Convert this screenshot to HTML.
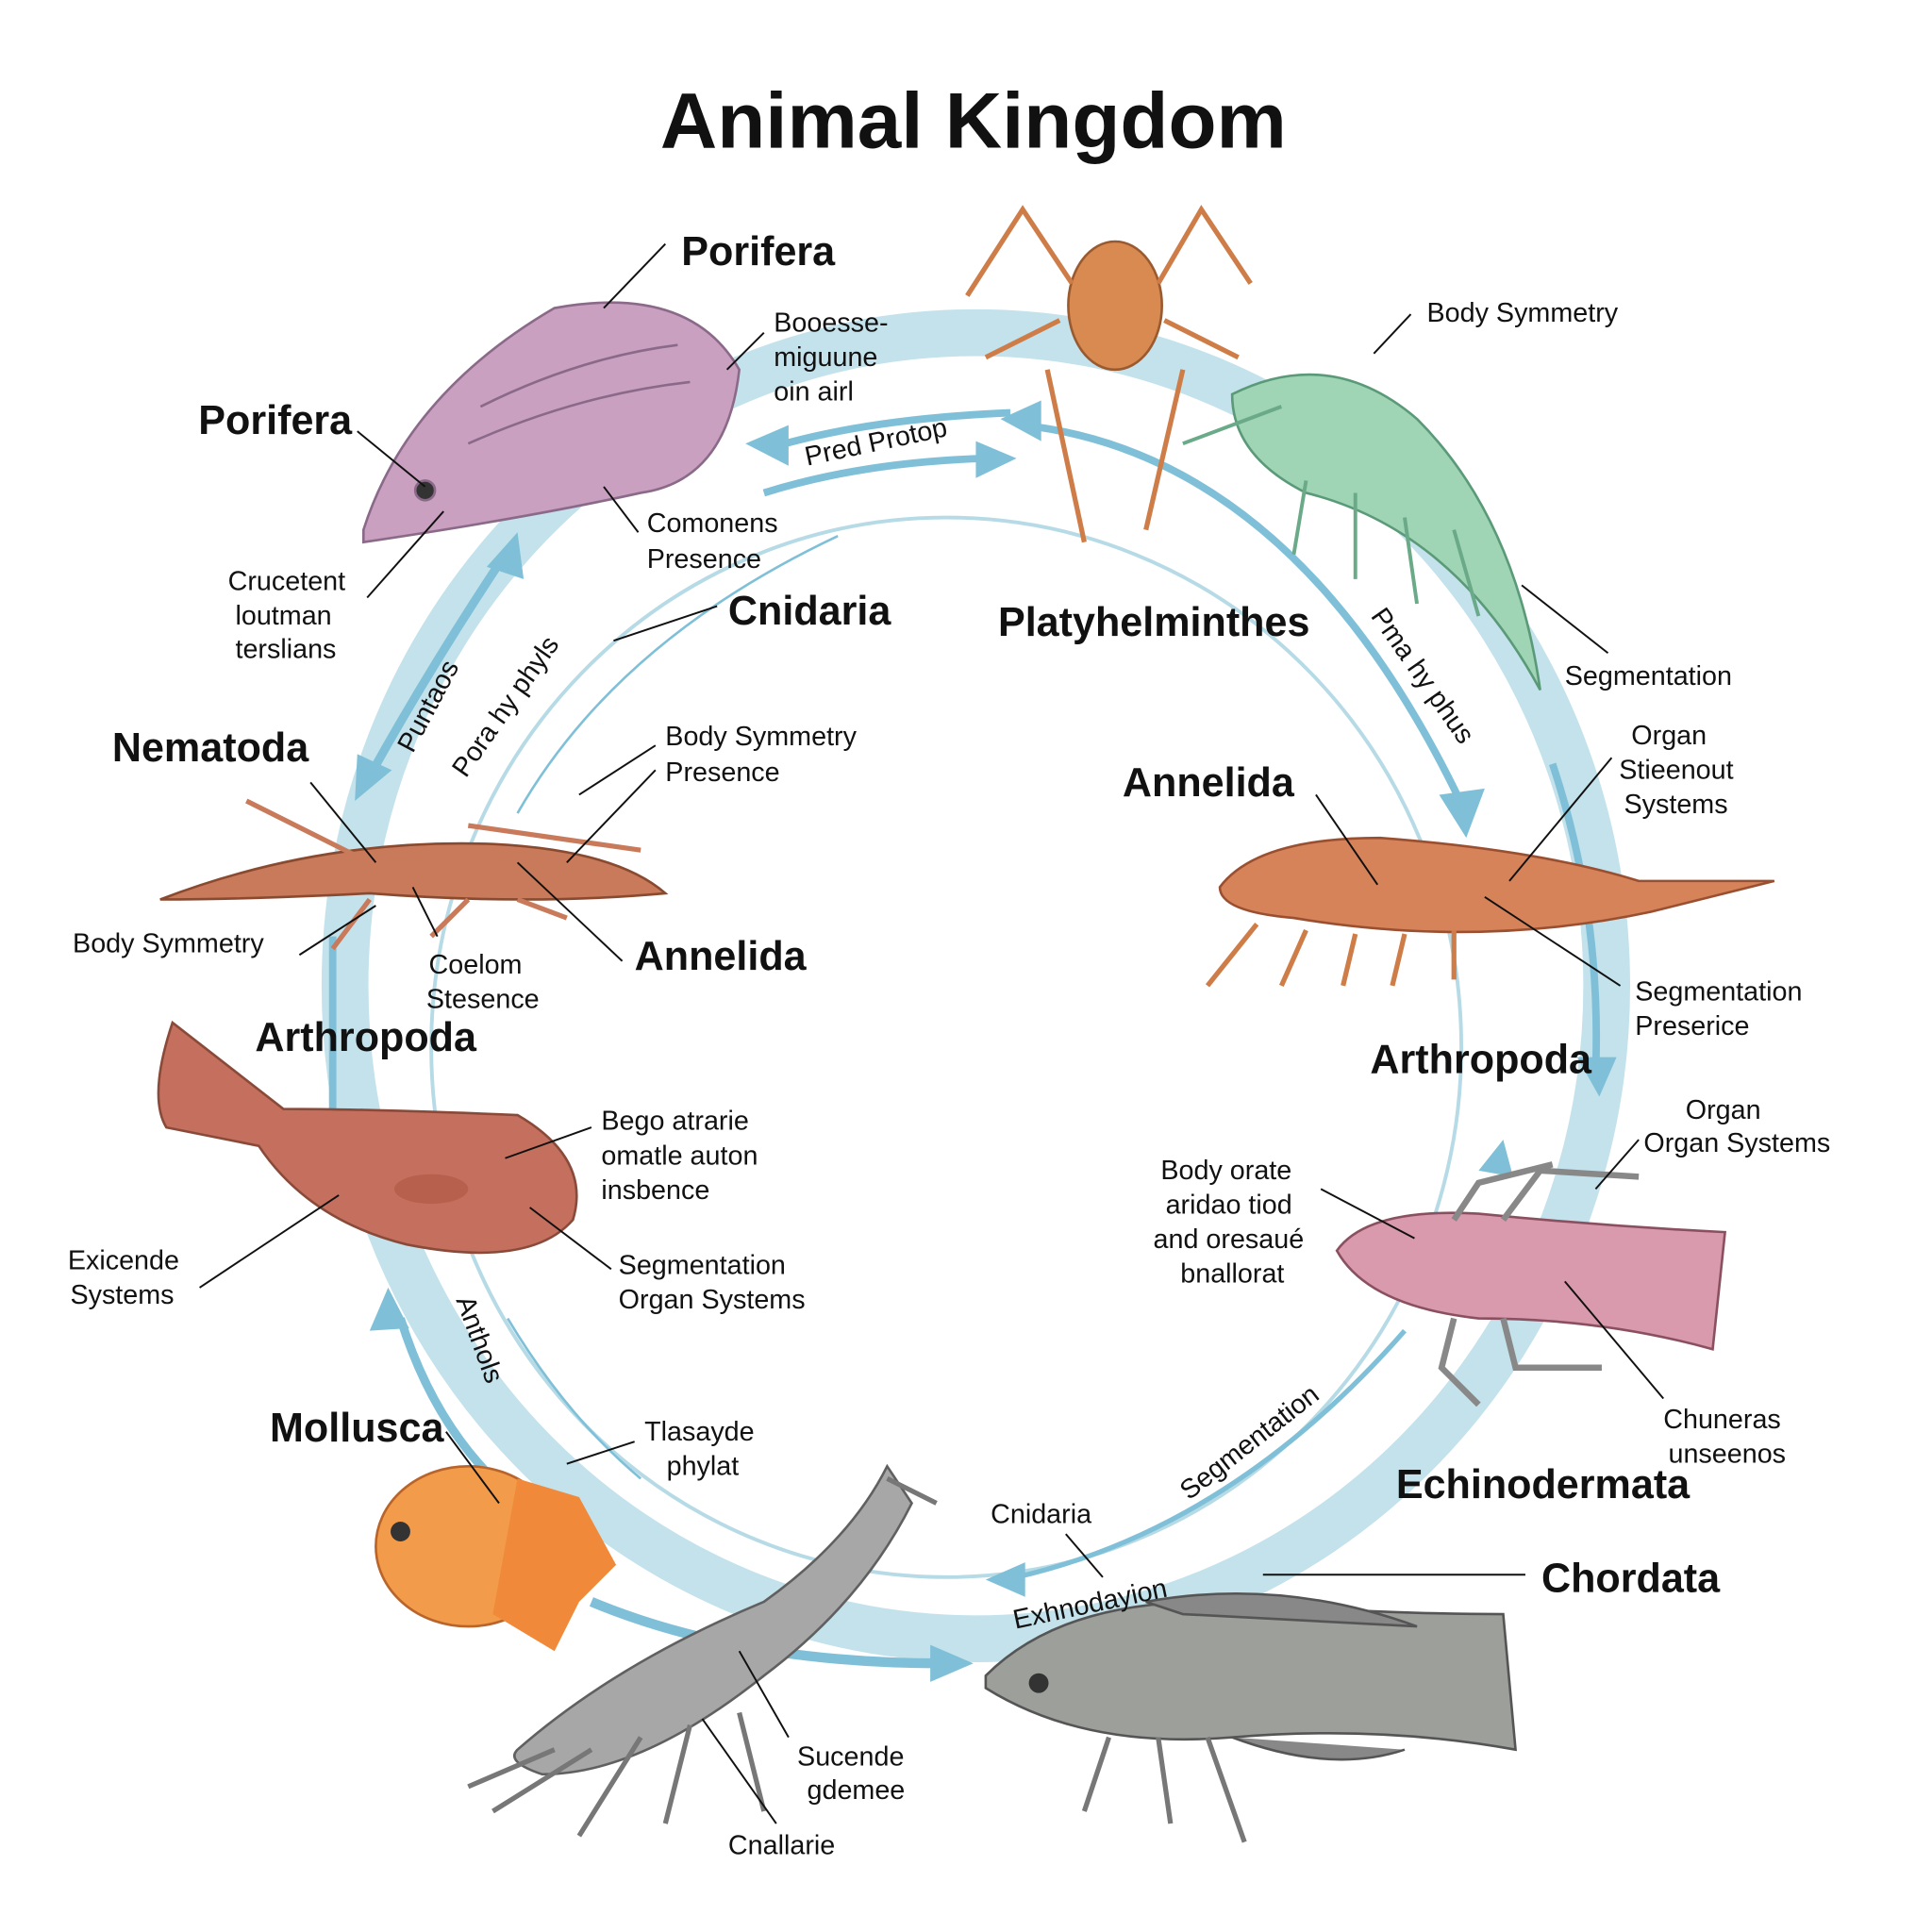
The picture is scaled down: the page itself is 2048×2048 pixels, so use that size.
<!DOCTYPE html>
<html><head><meta charset="utf-8"><style>
html,body{margin:0;padding:0;background:#fff}
svg{display:block}
text{font-family:"Liberation Sans",sans-serif;fill:#111}
.b{font-weight:bold;font-size:33px}
.s{font-size:22px}
</style></head><body>
<svg width="2048" height="2048" viewBox="0 0 1568 1568" xmlns="http://www.w3.org/2000/svg">
<rect width="1568" height="1568" fill="#fff"/>
<text x="790" y="120" text-anchor="middle" font-weight="bold" font-size="64">Animal Kingdom</text>
<ellipse cx="792" cy="800" rx="512" ry="530" fill="none" stroke="#c3e2eb" stroke-width="38"/>
<ellipse cx="768" cy="850" rx="418" ry="430" fill="none" stroke="#b6dbe6" stroke-width="3"/>
<g fill="none" stroke="#7fc0d8">
<path d="M620 365 Q700 340 820 335" stroke-width="6"/>
<path d="M620 400 Q700 375 800 372" stroke-width="6"/>
<path d="M830 345 Q1050 370 1185 650" stroke-width="6"/>
<path d="M410 450 Q350 540 300 630" stroke-width="7"/>
<path d="M270 760 L270 900" stroke-width="6"/>
<path d="M325 1070 Q350 1150 400 1200" stroke-width="7"/>
<path d="M480 1300 Q600 1350 765 1350" stroke-width="8"/>
<path d="M825 1280 Q1000 1240 1140 1080" stroke-width="4"/>
<path d="M1260 620 Q1300 740 1295 870" stroke-width="6"/>
<path d="M680 435 Q500 520 420 660" stroke-width="2"/>
<path d="M412 1070 Q460 1150 520 1200" stroke-width="2"/>
</g>
<g fill="#7fc0d8">
<polygon points="605,360 640,345 640,378"/>
<polygon points="825,372 792,358 792,388"/>
<polygon points="812,340 845,325 845,358"/>
<polygon points="1190,680 1168,645 1205,640"/>
<polygon points="288,650 290,612 318,625"/>
<polygon points="420,432 395,460 425,470"/>
<polygon points="1298,890 1280,858 1312,858"/>
<polygon points="315,1045 300,1080 332,1078"/>
<polygon points="790,1350 755,1335 755,1365"/>
<polygon points="800,1282 832,1268 832,1296"/>
<polygon points="1220,925 1200,950 1228,955"/>
</g>
<!-- animals -->
<path d="M295 430 Q330 320 450 250 Q560 230 600 300 Q590 390 520 400 Q430 420 295 440 Z" fill="#c9a0c0" stroke="#8a6a88" stroke-width="2"/>
<g stroke="#8a6a88" fill="none" stroke-width="2"><path d="M390 330 Q470 290 550 280"/><path d="M380 360 Q470 320 560 310"/><circle cx="345" cy="398" r="8" fill="#333"/></g>
<ellipse cx="905" cy="248" rx="38" ry="52" fill="#d98a50" stroke="#9a5a30" stroke-width="2"/>
<path d="M785 240 L830 170 L870 230 M1015 230 L975 170 L940 230 M800 290 L860 260 M1005 290 L945 260 M850 300 L880 440 M960 300 L930 430" stroke="#cf7d48" stroke-width="4" fill="none"/>
<path d="M1000 320 Q1080 280 1150 340 Q1230 420 1250 560 Q1180 430 1060 400 Q1000 370 1000 320Z" fill="#9fd4b4" stroke="#5a9a78" stroke-width="2"/>
<path d="M1060 390 L1050 450 M1100 400 L1100 470 M1140 420 L1150 490 M1180 430 L1200 500 M1040 330 L960 360" stroke="#6aaa88" stroke-width="3" fill="none"/>
<path d="M130 730 Q260 680 400 685 Q500 690 540 725 Q430 735 300 725 Q200 730 130 730Z" fill="#c97a5a" stroke="#8a4a30" stroke-width="2"/>
<path d="M200 650 L300 700 M380 670 L520 690 M300 730 L270 770 M380 730 L350 760 M420 730 L460 745" stroke="#c97a5a" stroke-width="4" fill="none"/>
<path d="M990 720 Q1020 680 1120 680 Q1250 690 1330 715 L1440 715 L1340 740 Q1200 770 1050 745 Q990 740 990 720Z" fill="#d7835a" stroke="#9a5030" stroke-width="2"/>
<path d="M1020 750 L980 800 M1060 755 L1040 800 M1100 758 L1090 800 M1140 758 L1130 800 M1180 755 L1180 795" stroke="#cf7d48" stroke-width="4" fill="none"/>
<path d="M140 830 L230 900 Q300 900 420 905 Q480 940 465 990 Q430 1030 330 1010 Q250 990 210 930 L135 915 Q120 890 140 830Z" fill="#c5705e" stroke="#8a4a3a" stroke-width="2"/>
<ellipse cx="350" cy="965" rx="30" ry="12" fill="#b8604e"/>
<path d="M1085 1015 Q1110 980 1200 985 Q1300 995 1400 1000 L1390 1095 Q1300 1070 1200 1070 Q1110 1060 1085 1015Z" fill="#d99aae" stroke="#8a5060" stroke-width="2"/>
<path d="M1180 990 L1200 960 L1260 945 M1220 990 L1250 950 L1330 955 M1180 1070 L1170 1110 L1200 1140 M1220 1070 L1230 1110 L1300 1110" stroke="#888" stroke-width="5" fill="none"/>
<ellipse cx="380" cy="1255" rx="75" ry="65" fill="#f29b4a" stroke="#b8642a" stroke-width="2"/>
<path d="M420 1200 L470 1215 L500 1270 L470 1300 L450 1340 L400 1310Z" fill="#f08a3a"/>
<circle cx="325" cy="1243" r="8" fill="#333"/>
<path d="M420 1420 Q500 1350 620 1300 Q690 1250 720 1190 L740 1220 Q700 1300 620 1360 Q520 1440 440 1440 Q410 1430 420 1420Z" fill="#a7a7a7" stroke="#606060" stroke-width="2"/>
<path d="M450 1420 L380 1450 M480 1420 L400 1470 M520 1410 L470 1490 M560 1400 L540 1480 M600 1390 L620 1470 M720 1200 L760 1220" stroke="#777" stroke-width="4" fill="none"/>
<path d="M800 1360 Q860 1300 980 1300 Q1120 1310 1220 1310 L1230 1420 Q1120 1400 1000 1410 Q880 1420 800 1370Z" fill="#9d9f9a" stroke="#555" stroke-width="2"/>
<path d="M930 1300 Q1040 1280 1150 1320 L960 1310Z M1000 1410 Q1080 1440 1140 1420" fill="#888" stroke="#555" stroke-width="2"/>
<circle cx="843" cy="1366" r="8" fill="#333"/>
<path d="M900 1410 L880 1470 M940 1410 L950 1480 M980 1410 L1010 1495" stroke="#777" stroke-width="4" fill="none"/>
<g>
<text class="b" x="553" y="215">Porifera</text>
<text class="b" x="161" y="352">Porifera</text>
<text class="b" x="591" y="507">Cnidaria</text>
<text class="b" x="810" y="516">Platyhelminthes</text>
<text class="b" x="91" y="618">Nematoda</text>
<text class="b" x="911" y="646">Annelida</text>
<text class="b" x="515" y="787">Annelida</text>
<text class="b" x="207" y="853">Arthropoda</text>
<text class="b" x="1112" y="871">Arthropoda</text>
<text class="b" x="219" y="1170">Mollusca</text>
<text class="b" x="1133" y="1216">Echinodermata</text>
<text class="b" x="1251" y="1292">Chordata</text>
<text class="s" x="628" y="269">Booesse-</text><text class="s" x="628" y="297">miguune</text><text class="s" x="628" y="325">oin airl</text>
<text class="s" x="1158" y="261">Body Symmetry</text>
<text class="s" x="525" y="432">Comonens</text><text class="s" x="525" y="461">Presence</text>
<text class="s" x="185" y="479">Crucetent</text><text class="s" x="191" y="507">loutman</text><text class="s" x="191" y="534">terslians</text>
<text class="s" x="1270" y="556">Segmentation</text>
<text class="s" x="540" y="605">Body Symmetry</text><text class="s" x="540" y="634">Presence</text>
<text class="s" x="1324" y="604">Organ</text><text class="s" x="1314" y="632">Stieenout</text><text class="s" x="1318" y="660">Systems</text>
<text class="s" x="59" y="773">Body Symmetry</text>
<text class="s" x="348" y="790">Coelom</text><text class="s" x="346" y="818">Stesence</text>
<text class="s" x="1327" y="812">Segmentation</text><text class="s" x="1327" y="840">Preserice</text>
<text class="s" x="1368" y="908">Organ</text><text class="s" x="1334" y="935">Organ Systems</text>
<text class="s" x="488" y="917">Bego atrarie</text><text class="s" x="488" y="945">omatle auton</text><text class="s" x="488" y="973">insbence</text>
<text class="s" x="942" y="957">Body orate</text><text class="s" x="946" y="985">aridao tiod</text><text class="s" x="936" y="1013">and oresaué</text><text class="s" x="958" y="1041">bnallorat</text>
<text class="s" x="55" y="1030">Exicende</text><text class="s" x="57" y="1058">Systems</text>
<text class="s" x="502" y="1034">Segmentation</text><text class="s" x="502" y="1062">Organ Systems</text>
<text class="s" x="1350" y="1159">Chuneras</text><text class="s" x="1354" y="1187">unseenos</text>
<text class="s" x="523" y="1169">Tlasayde</text><text class="s" x="541" y="1197">phylat</text>
<text class="s" x="804" y="1236">Cnidaria</text>
<text class="s" x="647" y="1433">Sucende</text><text class="s" x="655" y="1460">gdemee</text>
<text class="s" x="591" y="1505">Cnallarie</text>
<text class="s" transform="translate(655,378) rotate(-12)">Pred Protop</text>
<text class="s" transform="translate(335,612) rotate(-62)">Puntaos</text>
<text class="s" transform="translate(378,632) rotate(-55)">Pora hy phyls</text>
<text class="s" transform="translate(1112,500) rotate(55)">Pma hy phus</text>
<text class="s" transform="translate(370,1055) rotate(70)">Anthols</text>
<text class="s" transform="translate(965,1218) rotate(-38)">Segmentation</text>
<text class="s" transform="translate(824,1322) rotate(-12)">Exhnodayion</text>
</g>
<g stroke="#111" stroke-width="1.5" fill="none">
<line x1="540" y1="198" x2="490" y2="250"/><line x1="290" y1="350" x2="345" y2="395"/>
<line x1="620" y1="270" x2="590" y2="300"/><line x1="1145" y1="255" x2="1115" y2="287"/>
<line x1="518" y1="432" x2="490" y2="395"/><line x1="298" y1="485" x2="360" y2="415"/>
<line x1="582" y1="492" x2="498" y2="520"/><line x1="1305" y1="530" x2="1235" y2="475"/>
<line x1="532" y1="605" x2="470" y2="645"/><line x1="532" y1="625" x2="460" y2="700"/>
<line x1="1308" y1="615" x2="1225" y2="715"/><line x1="252" y1="635" x2="305" y2="700"/>
<line x1="1068" y1="645" x2="1118" y2="718"/><line x1="243" y1="775" x2="305" y2="735"/>
<line x1="355" y1="760" x2="335" y2="720"/><line x1="505" y1="780" x2="420" y2="700"/>
<line x1="1315" y1="800" x2="1205" y2="728"/><line x1="1330" y1="925" x2="1295" y2="965"/>
<line x1="480" y1="915" x2="410" y2="940"/><line x1="1072" y1="965" x2="1148" y2="1005"/>
<line x1="162" y1="1045" x2="275" y2="970"/><line x1="496" y1="1030" x2="430" y2="980"/>
<line x1="1350" y1="1135" x2="1270" y2="1040"/><line x1="515" y1="1170" x2="460" y2="1188"/>
<line x1="362" y1="1162" x2="405" y2="1220"/><line x1="865" y1="1245" x2="895" y2="1280"/>
<line x1="1238" y1="1278" x2="1025" y2="1278"/><line x1="640" y1="1410" x2="600" y2="1340"/>
<line x1="630" y1="1480" x2="570" y2="1395"/>
</g>
</svg>
</body></html>
